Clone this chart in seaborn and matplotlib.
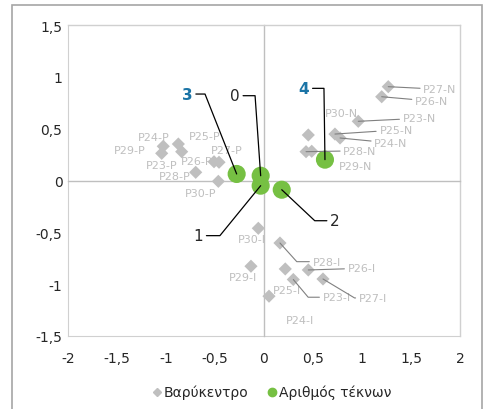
import matplotlib
matplotlib.use("Agg")
import matplotlib.pyplot as plt
import seaborn as sns
import pandas as pd
from matplotlib.patches import Rectangle
from matplotlib.lines import Line2D
from matplotlib.ticker import FuncFormatter

# Centroids (Βαρύκεντρο)
centroid_names = ["P24-P", "P29-P", "P25-P", "P23-P", "P26-P", "P27-P", "P28-P", "P30-P",
                  "P27-N", "P26-N", "P23-N", "P30-N", "P25-N", "P24-N", "P28-N", "P29-N",
                  "P30-I", "P28-I", "P29-I", "P25-I", "P26-I", "P23-I", "P27-I", "P24-I"]
centroid_x = [-1.028, -1.044, -0.874, -0.840, -0.510, -0.459, -0.697, -0.466,
              1.268, 1.201, 0.962, 0.452, 0.724, 0.776, 0.429, 0.487,
              -0.058, 0.163, -0.133, 0.217, 0.452, 0.299, 0.602, 0.051]
centroid_y = [0.330, 0.262, 0.352, 0.278, 0.181, 0.176, 0.079, -0.008,
              0.905, 0.808, 0.571, 0.439, 0.448, 0.410, 0.278, 0.282,
              -0.461, -0.603, -0.827, -0.853, -0.863, -0.955, -0.950, -1.116]

# Number of children (Αριθμός τέκνων)
children_names = ["0", "1", "2", "3", "4"]
children_x = [-0.034, -0.034, 0.181, -0.279, 0.622]
children_y = [0.046, -0.050, -0.089, 0.063, 0.201]

x_ticks = [-2, -1.5, -1, -0.5, 0, 0.5, 1, 1.5, 2]
y_ticks = [-1.5, -1, -0.5, 0, 0.5, 1, 1.5]

# label placement: text position, leader line (None, "straight" or angle at the point)
centroid_label_pos = {
    "P24-P": (-1.130, 0.417, None), "P29-P": (-1.374, 0.294, None),
    "P25-P": (-0.602, 0.426, None), "P23-P": (-1.044, 0.149, None),
    "P26-P": (-0.687, 0.191, None), "P27-P": (-0.381, 0.297, None),
    "P28-P": (-0.908, 0.046, None), "P30-P": (-0.646, -0.121, None),
    "P27-N": (1.796, 0.880, "straight"), "P26-N": (1.711, 0.766, "straight"),
    "P30-N": (0.793, 0.651, None), "P23-N": (1.585, 0.600, "straight"),
    "P25-N": (1.347, 0.487, "straight"), "P24-N": (1.296, 0.362, "straight"),
    "P28-N": (0.980, 0.287, "straight"), "P29-N": (0.936, 0.143, None),
    "P30-I": (-0.126, -0.564, None), "P28-I": (0.640, -0.783, -48),
    "P26-I": (0.997, -0.847, "straight"), "P29-I": (-0.211, -0.928, None),
    "P25-I": (0.235, -1.056, None), "P23-I": (0.742, -1.126, -50),
    "P27-I": (1.112, -1.133, -31), "P24-I": (0.367, -1.345, None),
}
children_label_pos = {
    "0": (-0.296, 0.818, 94), "1": (-0.670, -0.532, -129.2),
    "2": (0.724, -0.388, -43.2), "3": (-0.783, 0.834, 111.6),
    "4": (0.408, 0.889, 90.8),
}

GREY = "#bfbfbf"
GREEN = "#76c043"
BLUE = "#1b74a6"

sns.set_style("white")
plt.rcParams["font.family"] = ["DejaVu Sans"]

fig = plt.figure(figsize=(4.84, 4.10), dpi=100)
ax = fig.add_axes([68 / 484, 73 / 410, 392 / 484, 311 / 410])

cent = pd.DataFrame({"x": centroid_x, "y": centroid_y, "name": centroid_names})
kids = pd.DataFrame({"x": children_x, "y": children_y, "name": children_names})

sns.scatterplot(data=cent, x="x", y="y", marker="D", s=45, color=GREY,
                edgecolor="none", ax=ax, zorder=3, legend=False)
sns.scatterplot(data=kids, x="x", y="y", marker="o", s=170, color=GREEN,
                edgecolor="none", ax=ax, zorder=4, legend=False)

ax.set_xlim(-2, 2)
ax.set_ylim(-1.5, 1.5)
ax.set_xlabel("")
ax.set_ylabel("")

# axes crossing at zero with tick marks
ax.spines["left"].set_position(("data", 0))
ax.spines["bottom"].set_position(("data", 0))
for s in ["left", "bottom"]:
    ax.spines[s].set_color(GREY)
    ax.spines[s].set_linewidth(1.0)
for s in ["top", "right"]:
    ax.spines[s].set_color("#d0d0d0")
    ax.spines[s].set_linewidth(1.0)
ax.set_xticks(x_ticks)
ax.set_yticks(y_ticks)
ax.tick_params(direction="inout", length=7, width=1, color=GREY,
               labelbottom=False, labelleft=False)

fmt = FuncFormatter(lambda v, p: f"{v:g}".replace(".", ","))
sec_x = ax.secondary_xaxis("bottom")
sec_x.set_xticks(x_ticks)
sec_x.xaxis.set_major_formatter(fmt)
sec_x.tick_params(length=0, pad=11, labelsize=10, labelcolor="#262626")
sec_x.spines["bottom"].set_color("#d0d0d0")
sec_y = ax.secondary_yaxis("left")
sec_y.set_yticks(y_ticks)
sec_y.yaxis.set_major_formatter(fmt)
sec_y.tick_params(length=0, pad=4, labelsize=10, labelcolor="#262626")
sec_y.spines["left"].set_color("#d0d0d0")

# data labels for centroids
for name, px, py in zip(centroid_names, centroid_x, centroid_y):
    lx, ly, lead = centroid_label_pos[name]
    props = None
    if lead == "straight":
        props = dict(arrowstyle="-", color="#808080", lw=0.8, shrinkA=0, shrinkB=0)
    elif lead is not None:
        props = dict(arrowstyle="-", color="#808080", lw=0.8, shrinkA=0, shrinkB=0,
                     connectionstyle=f"angle,angleA=0,angleB={lead},rad=0")
    ax.annotate(name, xy=(px, py), xytext=(lx, ly), ha="center", va="center",
                fontsize=8, color=GREY, arrowprops=props, zorder=5)

# data labels for number of children
for name, px, py in zip(children_names, children_x, children_y):
    lx, ly, ang = children_label_pos[name]
    bold = name in ("3", "4")
    ax.annotate(name, xy=(px, py), xytext=(lx, ly), ha="center", va="center",
                fontsize=11, color=BLUE if bold else "#262626",
                fontweight="bold" if bold else "normal",
                arrowprops=dict(arrowstyle="-", color="black", lw=0.9, shrinkA=0, shrinkB=0,
                                connectionstyle=f"angle,angleA=0,angleB={ang},rad=0"),
                zorder=6)

handles = [Line2D([], [], marker="D", color=GREY, linestyle="none", markersize=4.5),
           Line2D([], [], marker="o", color=GREEN, linestyle="none", markersize=6)]
fig.legend(handles, ["Βαρύκεντρο", "Αριθμός τέκνων"], loc="center",
           bbox_to_anchor=(0.561, 0.041), ncol=2, frameon=False, fontsize=10,
           handletextpad=0.1, columnspacing=1.3, handlelength=0.8)

# outer chart border
fig.patches.append(Rectangle((12 / 484, -0.02), 470 / 484, 1.02 - 6 / 410,
                             transform=fig.transFigure, fill=False,
                             edgecolor="#a6a6a6", linewidth=1.2))

fig.savefig("out.png", dpi=100)
